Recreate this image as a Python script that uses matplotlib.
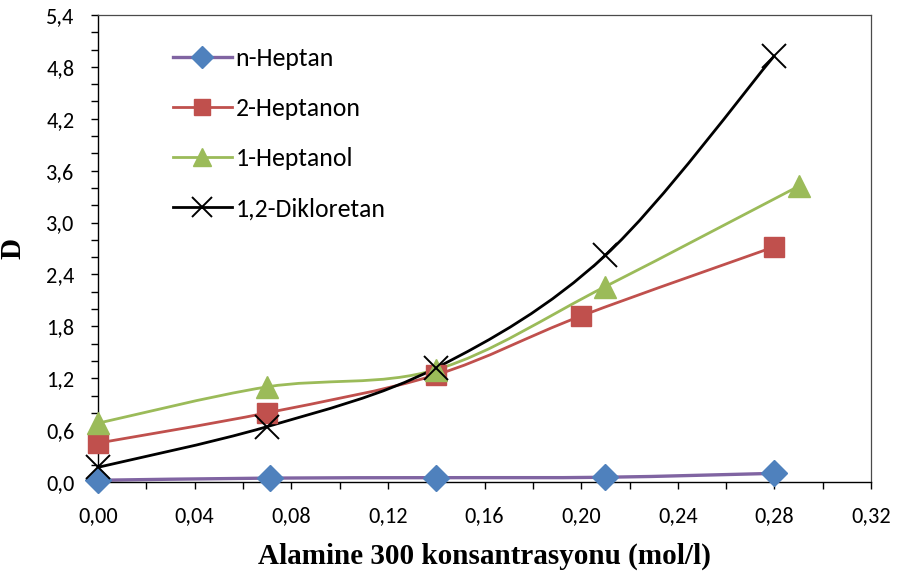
import numpy as np
import matplotlib
matplotlib.use('Agg')
from matplotlib import pyplot as plt
from matplotlib.path import Path
from matplotlib.patches import PathPatch
from matplotlib.lines import Line2D
from matplotlib.ticker import MultipleLocator, FuncFormatter

# data
x_heptan = [0.0, 0.071, 0.14, 0.21, 0.28]
d_heptan = [0.02, 0.045, 0.05, 0.055, 0.10]
x_heptanon = [0.0, 0.07, 0.14, 0.20, 0.28]
d_heptanon = [0.45, 0.80, 1.24, 1.92, 2.72]
x_heptanol = [0.0, 0.07, 0.14, 0.21, 0.29]
d_heptanol = [0.68, 1.10, 1.30, 2.26, 3.42]
x_dce = [0.0, 0.07, 0.14, 0.21, 0.28]
d_dce = [0.17, 0.64, 1.32, 2.62, 4.93]

labels = ['n-Heptan', '2-Heptanon', '1-Heptanol', '1,2-Dikloretan']

sans = ['Carlito', 'Open Sans', 'DejaVu Sans']
serif = ['Liberation Serif', 'DejaVu Serif']


def smooth_path(xs, ys):
    # bezier through the points, like excel's smoothed line
    pts = np.column_stack([xs, ys])
    n = len(pts)
    verts = [pts[0]]
    codes = [Path.MOVETO]
    for i in range(n - 1):
        p0 = pts[i - 1] if i > 0 else pts[i]
        p1 = pts[i]
        p2 = pts[i + 1]
        p3 = pts[i + 2] if i + 2 < n else pts[i + 1]
        c1 = p1 + (p2 - p0) / 6.0
        c2 = p2 - (p3 - p1) / 6.0
        verts += [c1, c2, p2]
        codes += [Path.CURVE4] * 3
    return Path(verts, codes)


fig = plt.figure(figsize=(9.01, 5.81), dpi=100)
ax = fig.add_axes([0.1088, 0.1704, 0.858, 0.8038])

series = [
    (x_heptan, d_heptan, '#8064A2', 'D', '#4F81BD', 13, 2.4),
    (x_heptanon, d_heptanon, '#C0504D', 's', '#C0504D', 14, 2.0),
    (x_heptanol, d_heptanol, '#9BBB59', '^', '#9BBB59', 16, 2.0),
    (x_dce, d_dce, 'black', 'x', 'black', 17, 2.0),
]

handles = []
for (xs, ys, lc, mk, mc, ms, lw), lab in zip(series, labels):
    ax.add_patch(PathPatch(smooth_path(xs, ys), fill=False, edgecolor=lc,
                           lw=lw, zorder=2))
    if mk == 'x':
        ax.plot(xs, ys, ls='none', marker=mk, ms=ms, mew=1.4, color=mc, zorder=3,
                clip_on=False)
    else:
        ax.plot(xs, ys, ls='none', marker=mk, ms=ms, mfc=mc, mec=mc, zorder=3,
                clip_on=False)
    h = Line2D([], [], color=lc, lw=lw, marker=mk, mfc=mc, mec=mc,
               ms=ms * 0.85, mew=1.4 if mk == 'x' else 1.0)
    handles.append(h)

ax.set_xlim(0, 0.32)
ax.set_ylim(0, 5.4)
ax.xaxis.set_major_locator(MultipleLocator(0.04))
ax.xaxis.set_minor_locator(MultipleLocator(0.02))
ax.yaxis.set_major_locator(MultipleLocator(0.6))
ax.yaxis.set_minor_locator(MultipleLocator(0.2))
ax.xaxis.set_major_formatter(FuncFormatter(lambda v, p: ('%.2f' % v).replace('.', ',')))
ax.yaxis.set_major_formatter(FuncFormatter(lambda v, p: ('%.1f' % v).replace('.', ',')))

# plot area border: thin grey on top/right, black axes
for s in ['top', 'right']:
    ax.spines[s].set_linewidth(0.9)
    ax.spines[s].set_color('#4a4a4a')
for s in ['left', 'bottom']:
    ax.spines[s].set_linewidth(1.0)
ax.tick_params(which='both', direction='out', length=5, width=1.0)
ax.tick_params(axis='x', which='major', labelsize=16, pad=12)
ax.tick_params(axis='y', which='major', labelsize=16, pad=12)
for t in ax.get_xticklabels() + ax.get_yticklabels():
    t.set_family(sans)

ax.set_xlabel('Alamine 300 konsantrasyonu (mol/l)', family=serif,
              fontweight='bold', fontsize=21, labelpad=12)
ax.set_ylabel('D', family=serif, fontweight='bold', fontsize=21, labelpad=14)

leg = ax.legend(handles, labels, loc='upper left', bbox_to_anchor=(0.0666, 0.98),
                frameon=False, prop={'family': sans, 'size': 18.5},
                handlelength=2.3, labelspacing=1.05, handletextpad=0.15)

fig.savefig('out.png', dpi=100)
